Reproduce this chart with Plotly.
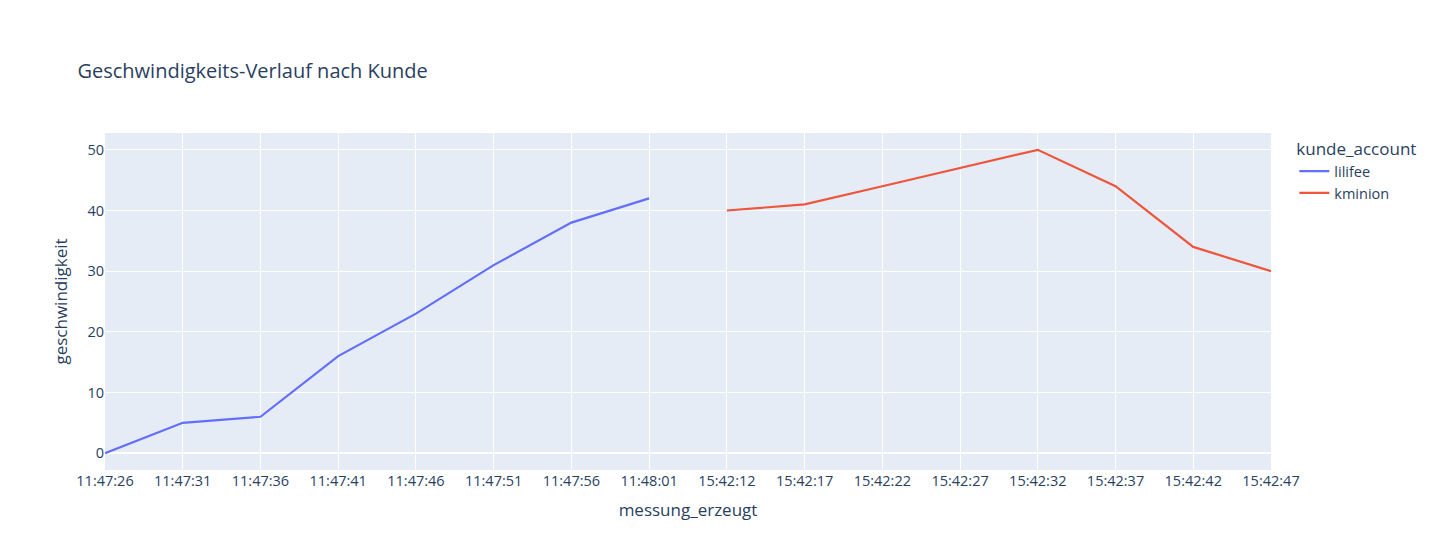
import plotly.express as px
import pandas as pd

zeit_lilifee = ["11:47:26", "11:47:31", "11:47:36", "11:47:41", "11:47:46", "11:47:51", "11:47:56", "11:48:01"]
speed_lilifee = [0, 5, 6, 16, 23, 31, 38, 42]
zeit_kminion = ["15:42:12", "15:42:17", "15:42:22", "15:42:27", "15:42:32", "15:42:37", "15:42:42", "15:42:47"]
speed_kminion = [40, 41, 44, 47, 50, 44, 34, 30]

df = pd.DataFrame({
    "messung_erzeugt": zeit_lilifee + zeit_kminion,
    "geschwindigkeit": speed_lilifee + speed_kminion,
    "kunde_account": ["lilifee"] * len(zeit_lilifee) + ["kminion"] * len(zeit_kminion),
})

fig = px.line(df, x="messung_erzeugt", y="geschwindigkeit", color="kunde_account",
              title="Geschwindigkeits-Verlauf nach Kunde")
fig.update_traces(line_width=2.2)
fig.update_xaxes(type="category", title_font_size=17)
fig.update_yaxes(title_font_size=17)
fig.update_layout(width=1447, height=557, font_size=14.5, title_font_size=20,
                  title_x=0.048, title_y=0.9,
                  legend_title_font_size=17,
                  margin=dict(l=97, r=184, t=125, b=95))
fig.write_html("out.html")
